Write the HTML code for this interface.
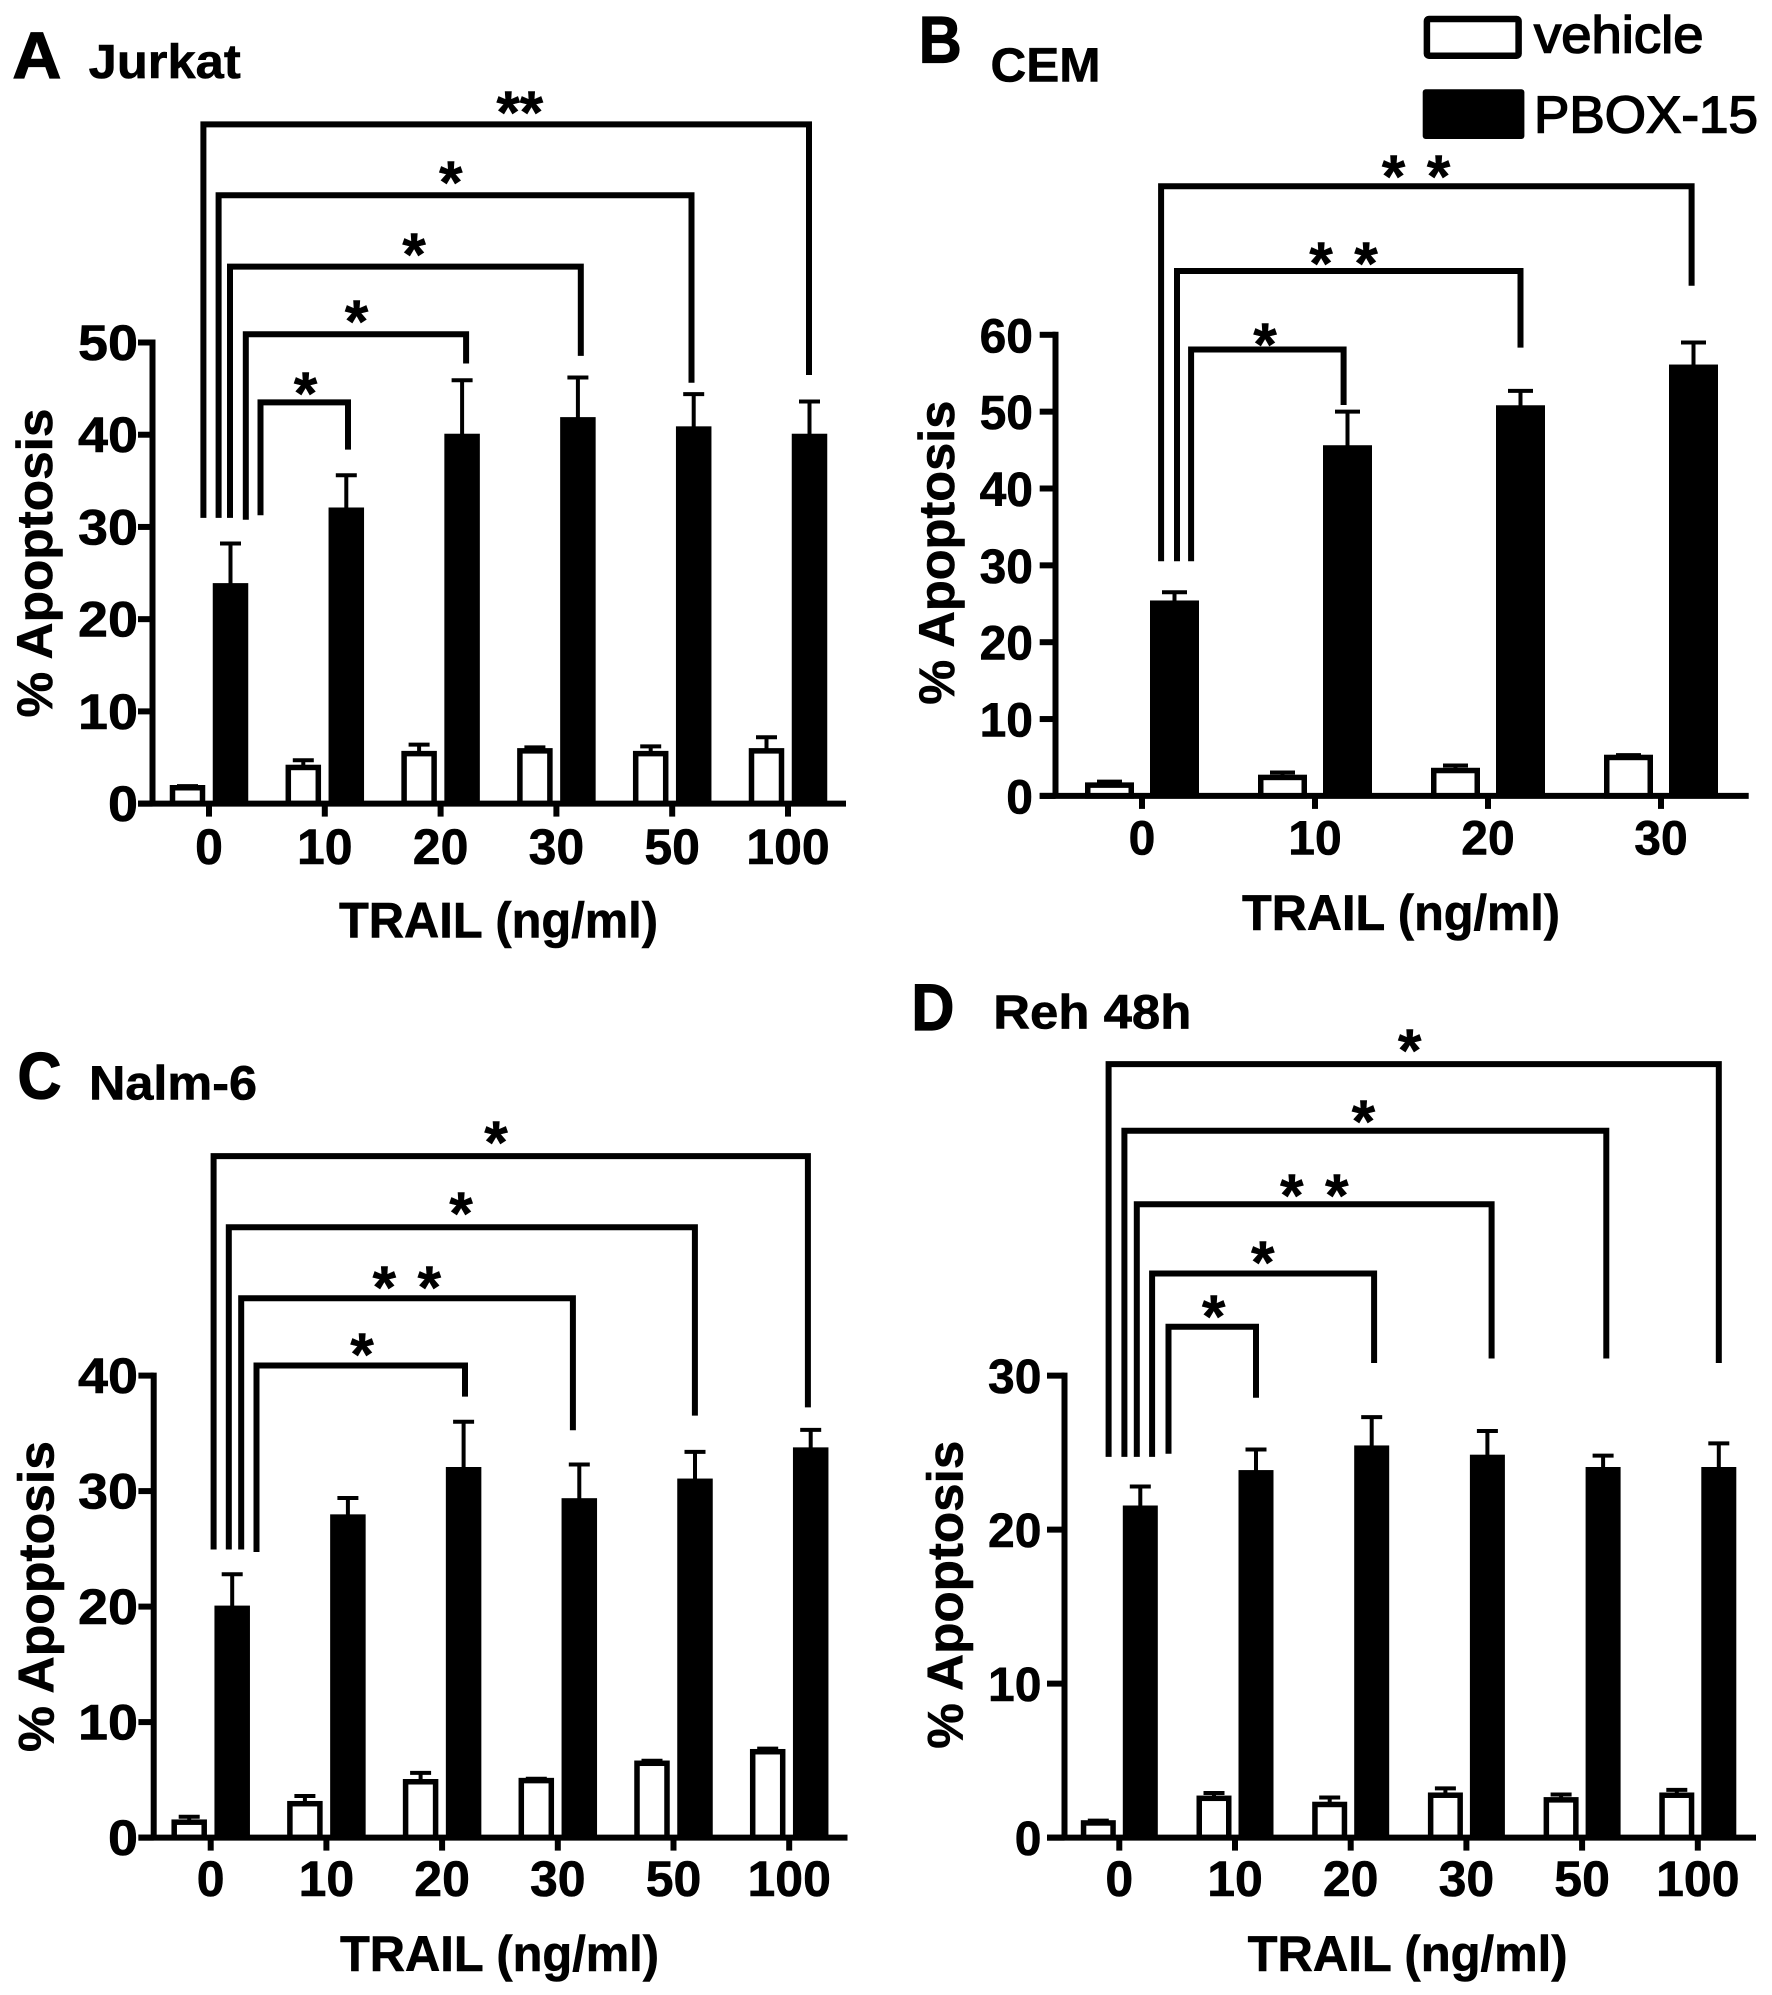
<!DOCTYPE html>
<html lang="en">
<head>
<meta charset="utf-8">
<title>TRAIL and PBOX-15 apoptosis panels</title>
<style>
html,body{margin:0;padding:0;background:#fff;}
svg{display:block;}
text{font-family:"Liberation Sans",Arial,sans-serif;font-weight:bold;fill:#000;stroke:#000;stroke-width:0.6px;}
.legend-label{font-weight:normal;stroke:#000;stroke-width:1.5px;}
.panel-letter{font-size:66px;stroke-width:1.2px;}
.panel-title{font-size:48px;}
.axis-title{font-size:50px;}
.star{font-size:60px;text-anchor:middle;word-spacing:5px;}
.bracket{fill:none;stroke:#000;stroke-width:6;stroke-linejoin:miter;}
</style>
</head>
<body>
<svg id="fig" xmlns="http://www.w3.org/2000/svg" width="1772" height="1995" viewBox="0 0 1772 1995">
<rect x="0" y="0" width="1772" height="1995" fill="#fff"/>

<!-- Panel headings -->
<text class="panel-letter" x="12.4" y="78" textLength="49" lengthAdjust="spacingAndGlyphs">A</text>
<text class="panel-title" x="88.7" y="78" textLength="152" lengthAdjust="spacingAndGlyphs">Jurkat</text>
<text class="panel-letter" x="918.8" y="62.5" textLength="43" lengthAdjust="spacingAndGlyphs">B</text>
<text class="panel-title" x="990.5" y="81.6" textLength="110" lengthAdjust="spacingAndGlyphs">CEM</text>
<text class="panel-letter" x="17.5" y="1098.4" textLength="44" lengthAdjust="spacingAndGlyphs">C</text>
<text class="panel-title" x="89" y="1099.6" textLength="168" lengthAdjust="spacingAndGlyphs">Nalm-6</text>
<text class="panel-letter" x="911.4" y="1030" textLength="43" lengthAdjust="spacingAndGlyphs">D</text>
<text class="panel-title" x="993.3" y="1028.5" textLength="198" lengthAdjust="spacingAndGlyphs">Reh 48h</text>

<!-- Axis titles -->
<text class="axis-title" x="339" y="937.5" textLength="319" lengthAdjust="spacingAndGlyphs">TRAIL (ng/ml)</text>
<text class="axis-title" x="1242" y="930" textLength="318" lengthAdjust="spacingAndGlyphs">TRAIL (ng/ml)</text>
<text class="axis-title" x="340" y="1970.8" textLength="319" lengthAdjust="spacingAndGlyphs">TRAIL (ng/ml)</text>
<text class="axis-title" x="1247.6" y="1970.8" textLength="320" lengthAdjust="spacingAndGlyphs">TRAIL (ng/ml)</text>
<text class="axis-title" transform="translate(52,717.5) rotate(-90)" textLength="309" lengthAdjust="spacingAndGlyphs">% Apoptosis</text>
<text class="axis-title" transform="translate(953.8,704.7) rotate(-90)" textLength="304" lengthAdjust="spacingAndGlyphs">% Apoptosis</text>
<text class="axis-title" transform="translate(53.7,1752) rotate(-90)" textLength="311" lengthAdjust="spacingAndGlyphs">% Apoptosis</text>
<text class="axis-title" transform="translate(962.3,1748.7) rotate(-90)" textLength="308" lengthAdjust="spacingAndGlyphs">% Apoptosis</text>

<!-- Legend -->
<rect x="1426.9" y="19" width="91.7" height="36.7" rx="2" fill="#fff" stroke="#000" stroke-width="6.5"/>
<rect x="1422.7" y="89.3" width="101.7" height="49.7" rx="3" fill="#000"/>
<text class="legend-label" x="1534" y="52.3" font-size="52" textLength="169.5" lengthAdjust="spacingAndGlyphs">vehicle</text>
<text class="legend-label" x="1534" y="132.7" font-size="52" textLength="224" lengthAdjust="spacingAndGlyphs">PBOX-15</text>

<!-- Panel A significance brackets -->
<path class="bracket" d="M203.4 517.9V124.4H809V375"/>
<path class="bracket" d="M218.6 517.9V195.2H691.5V382.7"/>
<path class="bracket" d="M230 517.9V266.6H580.8V355.9"/>
<path class="bracket" d="M245.8 519.8V334.2H466.1V363.5"/>
<path class="bracket" d="M260.5 515.3V402.4H348V449.6"/>
<text class="star" x="519.8" y="133">**</text>
<text class="star" x="450.8" y="203">*</text>
<text class="star" x="414" y="275">*</text>
<text class="star" x="356.5" y="342">*</text>
<text class="star" x="305.6" y="414">*</text>

<!-- Panel B significance brackets -->
<path class="bracket" d="M1161.1 561.2V186.2H1691.6V285.7"/>
<path class="bracket" d="M1177 561.2V271H1520.5V347.6"/>
<path class="bracket" d="M1191.1 561.2V349.5H1343.6V405"/>
<text class="star" x="1416" y="197">* *</text>
<text class="star" x="1343.6" y="284">* *</text>
<text class="star" x="1265" y="365">*</text>

<!-- Panel C significance brackets -->
<path class="bracket" d="M213.6 1549.5V1156.1H807.9V1407.4"/>
<path class="bracket" d="M228.8 1549.5V1227.2H694.9V1415.6"/>
<path class="bracket" d="M241.2 1549.5V1298.2H572.9V1430.2"/>
<path class="bracket" d="M256.5 1552V1365.5H465V1396.6"/>
<text class="star" x="496" y="1163">*</text>
<text class="star" x="461" y="1234">*</text>
<text class="star" x="406.8" y="1308">* *</text>
<text class="star" x="362" y="1375">*</text>

<!-- Panel D significance brackets -->
<path class="bracket" d="M1108.6 1456.9V1064.1H1718.8V1363"/>
<path class="bracket" d="M1124.4 1456.9V1130.7H1606.3V1358.5"/>
<path class="bracket" d="M1136.8 1456.9V1204.3H1491.6V1358.5"/>
<path class="bracket" d="M1152.1 1456.9V1273.5H1374.1V1363"/>
<path class="bracket" d="M1168.5 1453.7V1326.8H1256V1397.8"/>
<text class="star" x="1409.7" y="1071">*</text>
<text class="star" x="1363.4" y="1142">*</text>
<text class="star" x="1314.3" y="1216">* *</text>
<text class="star" x="1262.8" y="1283">*</text>
<text class="star" x="1213.7" y="1337">*</text>
</svg>

<script>
// Panel A: Jurkat
const jurkatDoses = ["0", "10", "20", "30", "50", "100"];
const jurkatYTicks = [0, 10, 20, 30, 40, 50];
const jurkatVehicle = [1.8, 4.0, 5.5, 5.8, 5.5, 5.8];
const jurkatVehicleErr = [0.1, 0.7, 0.9, 0.3, 0.7, 1.4];
const jurkatPbox = [23.8, 32.0, 40.0, 41.8, 40.8, 40.0];
const jurkatPboxErr = [4.4, 3.6, 5.9, 4.4, 3.6, 3.6];

// Panel B: CEM
const cemDoses = ["0", "10", "20", "30"];
const cemYTicks = [0, 10, 20, 30, 40, 50, 60];
const cemVehicle = [1.5, 2.5, 3.4, 5.1];
const cemVehicleErr = [0.35, 0.55, 0.55, 0.2];
const cemPbox = [25.3, 45.5, 50.7, 56.0];
const cemPboxErr = [1.2, 4.5, 2.0, 3.0];

// Panel C: Nalm-6
const nalmDoses = ["0", "10", "20", "30", "50", "100"];
const nalmYTicks = [0, 10, 20, 30, 40];
const nalmVehicle = [1.4, 3.0, 4.9, 5.0, 6.5, 7.5];
const nalmVehicleErr = [0.4, 0.6, 0.7, 0.1, 0.15, 0.2];
const nalmPbox = [20.0, 27.9, 32.0, 29.3, 31.0, 33.7];
const nalmPboxErr = [2.8, 1.5, 4.0, 3.0, 2.4, 1.6];

// Panel D: Reh 48h
const rehDoses = ["0", "10", "20", "30", "50", "100"];
const rehYTicks = [0, 10, 20, 30];
const rehVehicle = [1.0, 2.6, 2.2, 2.8, 2.5, 2.8];
const rehVehicleErr = [0.1, 0.3, 0.4, 0.4, 0.3, 0.3];
const rehPbox = [21.5, 23.8, 25.4, 24.8, 24.0, 24.0];
const rehPboxErr = [1.3, 1.4, 1.9, 1.6, 0.8, 1.6];

const SVG_NS = "http://www.w3.org/2000/svg";
const root = document.getElementById("fig");

function mk(tag, parent, name, attrs) {
  const el = document.createElementNS(SVG_NS, tag);
  
  
  for (const k in attrs) { el.setAttribute(k, attrs[k]); }
  parent.appendChild(el);
  return el;
}

function drawPanel(cfg) {
  const g = mk("g", root, cfg.key + "-chart", {});
  const vmax = cfg.yTicks[cfg.yTicks.length - 1];
  const yScale = function (v) { return cfg.y0 - (cfg.y0 - cfg.yTop) * v / vmax; };
  const xScale = function (i) { return cfg.x0 + cfg.step * i; };

  function errorBar(cx, top, err, capHalf, name) {
    const yEnd = yScale(top + err);
    mk("line", g, name + "-whisker", { x1: cx, x2: cx, y1: yScale(top), y2: yEnd, stroke: "#000", "stroke-width": 4 });
    mk("line", g, name + "-cap", { x1: cx - capHalf, x2: cx + capHalf, y1: yEnd, y2: yEnd, stroke: "#000", "stroke-width": 4 });
  }

  cfg.doses.forEach(function (dose, i) {
    const cx = xScale(i);
    const vx = cx - cfg.off;
    const px = cx + cfg.off;
    errorBar(vx, cfg.vehicle[i], cfg.vehicleErr[i], cfg.cap, cfg.key + "-vehicle-error-" + dose);
    errorBar(px, cfg.pbox[i], cfg.pboxErr[i], cfg.cap, cfg.key + "-pbox-error-" + dose);
    const sw = 5.5;
    const vTop = yScale(cfg.vehicle[i]) - 2;
    mk("rect", g, cfg.key + "-vehicle-bar-" + dose, {
      x: vx - cfg.barW / 2 + sw / 2,
      y: vTop + sw / 2,
      width: cfg.barW - sw,
      height: Math.max(0, cfg.y0 - vTop - sw / 2),
      fill: "#fff", stroke: "#000", "stroke-width": sw
    });
    mk("rect", g, cfg.key + "-pbox-bar-" + dose, {
      x: px - cfg.barW / 2,
      y: yScale(cfg.pbox[i]) - 1,
      width: cfg.barW,
      height: cfg.y0 - yScale(cfg.pbox[i]) + 1,
      fill: "#000"
    });
    mk("line", g, cfg.key + "-x-tick-" + dose, { x1: cx, x2: cx, y1: cfg.y0, y2: cfg.y0 + 13, stroke: "#000", "stroke-width": 6 });
    const label = mk("text", g, cfg.key + "-x-tick-label-" + dose, { x: cx, y: cfg.xLabelY, "text-anchor": "middle", "font-size": cfg.xFont });
    label.textContent = dose;
  });

  cfg.yTicks.forEach(function (t) {
    const y = yScale(t);
    const str = String(t);
    mk("line", g, cfg.key + "-y-tick-" + t, { x1: cfg.xStart, x2: cfg.axisX, y1: y, y2: y, stroke: "#000", "stroke-width": 6 });
    const label = mk("text", g, cfg.key + "-y-tick-label-" + t, {
      x: cfg.yLabelX, y: y + 17.5, "text-anchor": "end", "font-size": cfg.yFont,
      textLength: str.length * cfg.yDigitW, lengthAdjust: "spacingAndGlyphs"
    });
    label.textContent = str;
  });

  mk("line", g, cfg.key + "-y-axis", { x1: cfg.axisX, x2: cfg.axisX, y1: cfg.yTop - 3, y2: cfg.y0, stroke: "#000", "stroke-width": 6 });
  mk("line", g, cfg.key + "-x-axis", { x1: cfg.xStart, x2: cfg.xEnd, y1: cfg.y0, y2: cfg.y0, stroke: "#000", "stroke-width": 6 });
}

drawPanel({
  key: "jurkat", doses: jurkatDoses, yTicks: jurkatYTicks,
  vehicle: jurkatVehicle, vehicleErr: jurkatVehicleErr, pbox: jurkatPbox, pboxErr: jurkatPboxErr,
  axisX: 152.5, y0: 803.6, yTop: 342.5, x0: 209, step: 115.8, xStart: 138, xEnd: 846,
  barW: 35.5, off: 21.5, cap: 10.5, xLabelY: 864, yLabelX: 138, xFont: 50, yFont: 50, yDigitW: 30
});
drawPanel({
  key: "cem", doses: cemDoses, yTicks: cemYTicks,
  vehicle: cemVehicle, vehicleErr: cemVehicleErr, pbox: cemPbox, pboxErr: cemPboxErr,
  axisX: 1055.5, y0: 795.9, yTop: 334.8, x0: 1142, step: 173, xStart: 1039.7, xEnd: 1748.7,
  barW: 49, off: 32.5, cap: 12.5, xLabelY: 854.6, yLabelX: 1033, xFont: 48, yFont: 48, yDigitW: 26.7
});
drawPanel({
  key: "nalm", doses: nalmDoses, yTicks: nalmYTicks,
  vehicle: nalmVehicle, vehicleErr: nalmVehicleErr, pbox: nalmPbox, pboxErr: nalmPboxErr,
  axisX: 153.7, y0: 1837.6, yTop: 1375.6, x0: 210.7, step: 115.7, xStart: 138.4, xEnd: 847.5,
  barW: 35.5, off: 21.5, cap: 10.5, xLabelY: 1896, yLabelX: 138, xFont: 50, yFont: 50, yDigitW: 30
});
drawPanel({
  key: "reh", doses: rehDoses, yTicks: rehYTicks,
  vehicle: rehVehicle, vehicleErr: rehVehicleErr, pbox: rehPbox, pboxErr: rehPboxErr,
  axisX: 1064.5, y0: 1837.6, yTop: 1375.6, x0: 1119.3, step: 115.7, xStart: 1047, xEnd: 1756,
  barW: 35, off: 21, cap: 10.5, xLabelY: 1896, yLabelX: 1041.4, xFont: 50, yFont: 48, yDigitW: 26.7
});
</script>
</body>
</html>
